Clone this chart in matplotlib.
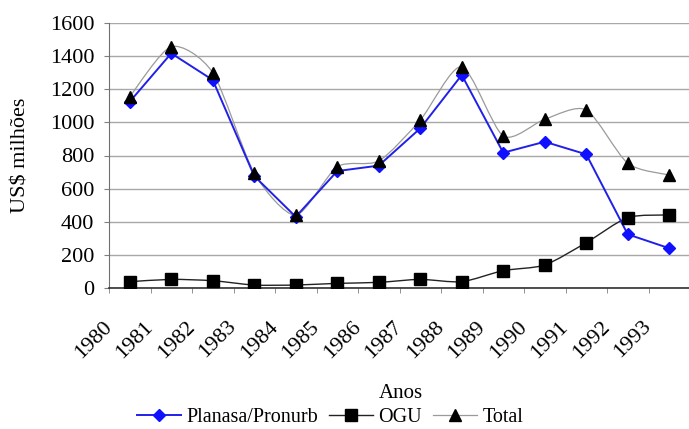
import numpy as np
import matplotlib
matplotlib.use("Agg")
import matplotlib.pyplot as plt
from matplotlib.path import Path
from matplotlib.patches import PathPatch
from matplotlib.lines import Line2D
from matplotlib.transforms import ScaledTranslation

# Investimentos em saneamento, 1980-1993 (US$ milhões)
anos = ["1980", "1981", "1982", "1983", "1984", "1985", "1986",
        "1987", "1988", "1989", "1990", "1991", "1992", "1993"]
planasa = [1125, 1417, 1256, 676, 430, 706, 739, 964, 1286, 817, 883, 807, 324, 240]
ogu = [38, 52, 44, 18, 18, 28, 34, 52, 38, 105, 139, 274, 425, 441]
total = [1155, 1457, 1300, 694, 440, 732, 767, 1014, 1336, 918, 1019, 1075, 753, 682]
y_ticks = [0, 200, 400, 600, 800, 1000, 1200, 1400, 1600]

plt.rcParams["font.family"] = ["Liberation Serif", "DejaVu Serif"]

fig = plt.figure(figsize=(6.89, 4.29), dpi=100)
ax = fig.add_axes([109 / 689, 1 - 288 / 429, 581 / 689, 265 / 429])

x = np.arange(len(anos))


def smooth_path(xs, ys, k=8.0):
    """Cubic Bezier path through the points (Catmull-Rom style tangents)."""
    pts = np.column_stack([xs, ys]).astype(float)
    n = len(pts)
    verts = [pts[0]]
    codes = [Path.MOVETO]
    for i in range(n - 1):
        p0 = pts[i - 1] if i > 0 else pts[i]
        p1 = pts[i]
        p2 = pts[i + 1]
        p3 = pts[i + 2] if i + 2 < n else pts[i + 1]
        c1 = p1 + (p2 - p0) / k
        c2 = p2 - (p3 - p1) / k
        verts += [c1, c2, p2]
        codes += [Path.CURVE4] * 3
    return Path(verts, codes)


# grid
for v in y_ticks:
    ax.axhline(v, color="#a8a8a8", lw=1.0, zorder=0)

# Total: thin grey smoothed line with black triangles
ax.add_patch(PathPatch(smooth_path(x, total), facecolor="none",
                       edgecolor="#9a9a9a", lw=0.9, zorder=2))
ax.plot(x, total, linestyle="none", marker="^", color="black",
        markersize=8, zorder=4)

# OGU: black smoothed line with squares
ax.add_patch(PathPatch(smooth_path(x, ogu), facecolor="none",
                       edgecolor="#222222", lw=1.0, zorder=2))
ax.plot(x, ogu, linestyle="none", marker="s", color="black",
        markersize=8, zorder=4)

# Planasa/Pronurb: blue line with diamonds
ax.plot(x, planasa, color="#2020e8", lw=1.4, marker="D", markersize=6,
        markerfacecolor="#1010ff", markeredgecolor="#1010ff", zorder=3)

ax.set_xlim(-0.5, len(anos) - 0.5)
ax.set_ylim(0, 1600)

ax.set_yticks(y_ticks)
ax.set_yticklabels([str(v) for v in y_ticks])
ax.tick_params(axis="y", length=3.6, color="#808080", pad=7, labelsize=16)

ax.set_xticks(x)
ax.set_xticklabels(anos, rotation=45, ha="right", va="top")
ax.set_xticks(np.arange(-0.5, len(anos)), minor=True)
ax.tick_params(axis="x", which="major", length=0, pad=21, labelsize=16)
ax.tick_params(axis="x", which="minor", length=3.6, color="#808080")
shift = ScaledTranslation(-14 / 100, 0, fig.dpi_scale_trans)
for lab in ax.get_xticklabels():
    lab.set_transform(lab.get_transform() + shift)

for s in ["top", "right"]:
    ax.spines[s].set_visible(False)
ax.spines["left"].set_color("#707070")
ax.spines["bottom"].set_color("#303030")
ax.spines["bottom"].set_linewidth(1.2)

ax.set_ylabel("US$ milhões", fontsize=16)
ax.yaxis.set_label_coords(-(109 - 31) / 581, 0.5)

fig.text(401 / 689, 1 - 394 / 429, "Anos", ha="center", va="center", fontsize=15)

handles = [
    Line2D([], [], color="#2020e8", lw=1.4, marker="D", markersize=6,
           markerfacecolor="#1010ff", markeredgecolor="#1010ff"),
    Line2D([], [], color="#222222", lw=1.0, marker="s", markersize=8,
           markerfacecolor="black", markeredgecolor="black"),
    Line2D([], [], color="#9a9a9a", lw=0.9, marker="^", markersize=8,
           markerfacecolor="black", markeredgecolor="black"),
]
fig.legend(handles, ["Planasa/Pronurb", "OGU", "Total"], loc="center",
           bbox_to_anchor=(330 / 689, 1 - 417 / 429), ncol=3, frameon=False,
           fontsize=14.5, handlelength=2.2, handletextpad=0.25,
           columnspacing=0.55, borderpad=0, borderaxespad=0)

fig.savefig("out.png", dpi=100)
